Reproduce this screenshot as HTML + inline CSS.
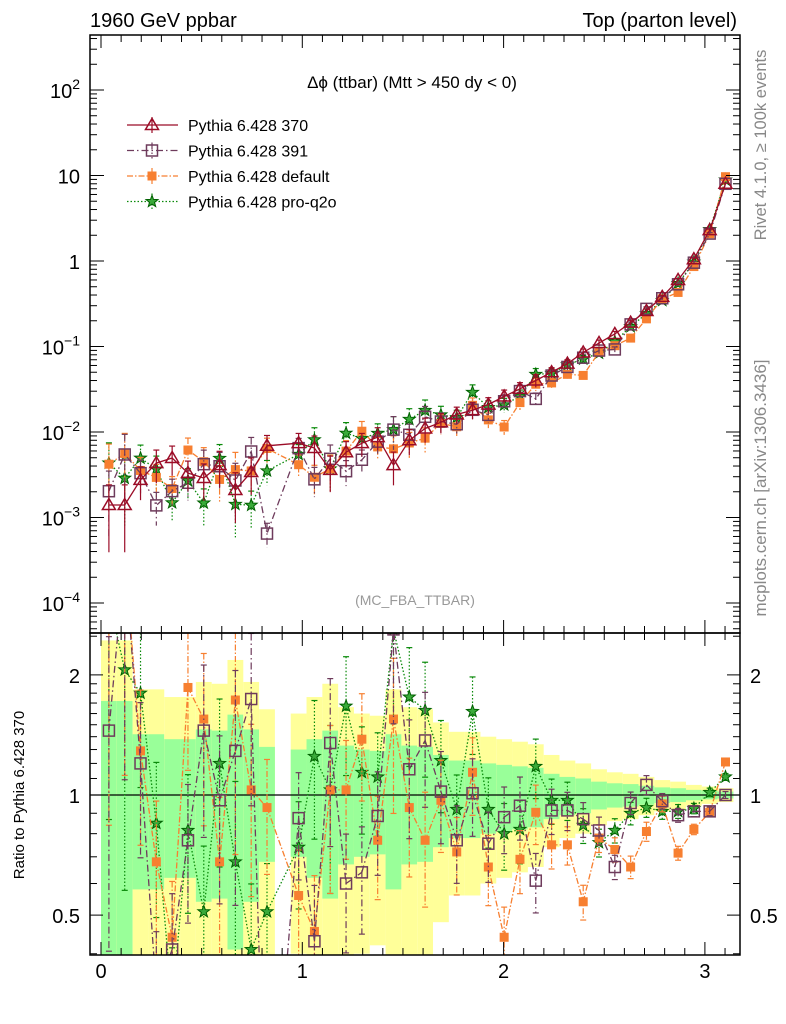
<!DOCTYPE html>
<html><head><meta charset="utf-8"><style>
html,body{margin:0;padding:0;background:#fff;width:786px;height:1024px;overflow:hidden;}
svg{display:block;font-family:"Liberation Sans",sans-serif;}
</style></head><body>
<svg id="chart" width="786" height="1024" viewBox="0 0 786 1024" xmlns="http://www.w3.org/2000/svg">
<defs>
<clipPath id="cm"><rect x="90" y="35" width="650" height="598"/></clipPath>
<clipPath id="cr"><rect x="90" y="633" width="650" height="322"/></clipPath>
</defs>
<text x="90" y="27" font-size="20">1960 GeV ppbar</text>
<text x="737" y="27" font-size="20" text-anchor="end">Top (parton level)</text>
<text x="412" y="88" font-size="17" text-anchor="middle">Δϕ (ttbar) (Mtt &gt; 450 dy &lt; 0)</text>
<text x="415" y="605" font-size="14" fill="#999" text-anchor="middle">(MC_FBA_TTBAR)</text>
<text transform="translate(766,145) rotate(-90)" font-size="16.5" fill="#888" text-anchor="middle">Rivet 4.1.0, ≥ 100k events</text>
<text transform="translate(766,488) rotate(-90)" font-size="17" fill="#888" text-anchor="middle">mcplots.cern.ch [arXiv:1306.3436]</text>
<text transform="translate(24,795) rotate(-90)" font-size="15" text-anchor="middle">Ratio to Pythia 6.428 370</text>
<g id="bands" clip-path="url(#cr)"></g>
<g id="ratio" clip-path="url(#cr)"></g>
<g id="main" clip-path="url(#cm)"></g>
<g id="axes"></g>
<g id="legend"></g>
</svg>
<script>
const ref370 = [1.40e-3,1.40e-3,2.75e-3,4.33e-3,4.96e-3,3.31e-3,2.9e-3,4.1e-3,2.1e-3,3.4e-3,6.9e-3,null,7.4e-3,6.5e-3,3.6e-3,5.8e-3,7.4e-3,8.7e-3,4.1e-3,8.0e-3,
 1.1e-2,1.3e-2,1.6e-2,1.8e-2,2.1e-2,2.6e-2,3.2e-2,4.0e-2,5.0e-2,6.3e-2,0.085,0.11,0.14,0.19,0.26,0.38,0.6,1.05,2.3,8.0];
const ratio391 = [1.45,3.9,1.2,0.32,0.41,0.77,1.45,0.97,1.29,1.74,0.094,null,0.875,0.43,1.35,0.6,0.64,0.886,2.6,1.16,
 1.37,1.02,0.77,1.01,0.755,0.88,0.94,0.61,0.915,0.915,0.87,0.815,0.66,0.955,1.06,0.965,0.89,0.91,0.91,1.0];
const ratioDefault = [3.0,4.0,1.29,0.68,0.44,1.86,1.55,0.68,1.73,1.03,0.93,null,0.56,0.455,1.03,1.03,1.38,0.77,1.55,0.93,
 0.77,0.97,0.72,1.14,0.66,0.44,0.69,0.905,0.75,0.75,0.54,0.78,0.73,0.66,0.81,0.95,0.715,0.82,0.905,1.21];
const ratioQ2o = [3.1,2.06,1.8,0.85,0.3,0.815,0.51,1.2,0.68,0.41,0.51,null,0.74,1.25,1.03,1.67,1.14,1.11,2.6,1.76,
 1.63,1.22,0.92,1.62,0.92,0.8,0.82,1.18,0.97,0.97,0.84,0.76,0.815,0.9,0.93,0.91,0.91,0.925,1.015,1.11];
const relErr = [0.72,0.72,0.42,0.42,0.38,0.38,0.46,0.45,0.59,0.46,0.32,null,0.30,0.38,0.45,0.33,0.30,0.29,0.42,0.33,
 0.32,0.26,0.22,0.22,0.2,0.19,0.18,0.17,0.13,0.11,0.1,0.08,0.07,0.065,0.055,0.045,0.04,0.03,0.025,0.02];
const xTicks = [0,1,2,3];
const yMainTicks = [2,1,0,-1,-2,-3,-4];
const ratioTicks = ["0.5","1","2"];

const NS="http://www.w3.org/2000/svg";
const nBins=ref370.length, bw=Math.PI/nBins;
const X=v=>101+v*201.3;
const YM=v=>90+(2-Math.log10(v))*85.5;
const YR=r=>795-Math.log10(r)*399;
const RTOP=633,RBOT=955;
function mk(tag,attrs,parent){const e=document.createElementNS(NS,tag);for(const k in attrs)e.setAttribute(k,attrs[k]);parent.appendChild(e);return e;}
const G=id=>document.getElementById(id);
const cx=i=>X((i+0.5)*bw);
const clampR=y=>Math.max(RTOP,Math.min(RBOT,y));
function clipSeg(x1,y1,x2,y2){
 let t0=0,t1=1;const dy=y2-y1;
 if(dy===0){if(y1<RTOP||y1>RBOT)return null;}
 else{let ta=(RTOP-y1)/dy,tb=(RBOT-y1)/dy;if(ta>tb){const t=ta;ta=tb;tb=t;}t0=Math.max(t0,ta);t1=Math.min(t1,tb);if(t0>=t1)return null;}
 return [x1+(x2-x1)*t0,y1+dy*t0,x1+(x2-x1)*t1,y1+dy*t1];
}

const bands=G('bands');
for(let i=0;i<nBins;i++){const e=relErr[i];if(e==null)continue;
 const x0=X(i*bw),x1=X((i+1)*bw);
 let t=clampR(YR(1+2*e)),b=1-2*e>0?clampR(YR(1-2*e)):RBOT;
 let r=mk('rect',{x:x0,y:t,width:x1-x0,height:b-t,fill:'#ffff99'},bands);
 
 
 t=clampR(YR(1+e));b=1-e>0?clampR(YR(1-e)):RBOT;
 r=mk('rect',{x:x0,y:t,width:x1-x0,height:b-t,fill:'#99ff99'},bands);
 
 
}
const rl=mk('line',{x1:90,x2:740,y1:YR(1),y2:YR(1),stroke:'#000','stroke-width':1.3},G('ratio'));



function marker(kind,x,y,color,p){
 let el;
 if(kind==='tri')el=mk('polygon',{points:`${x},${y-6.5} ${x-6.5},${y+4.5} ${x+6.5},${y+4.5}`,fill:'none',stroke:color,'stroke-width':1.5},p);
 else if(kind==='osq')el=mk('rect',{x:x-5.5,y:y-5.5,width:11,height:11,fill:'none',stroke:color,'stroke-width':1.5},p);
 else if(kind==='fsq')el=mk('rect',{x:x-4.5,y:y-4.5,width:9,height:9,fill:color},p);
 else {let pts=[];for(let k=0;k<10;k++){const a=-Math.PI/2+k*Math.PI/5,rr=k%2?2.6:6.3;pts.push((x+rr*Math.cos(a)).toFixed(1)+','+(y+rr*Math.sin(a)).toFixed(1));}
  el=mk('polygon',{points:pts.join(' '),fill:'#3aaa3a',stroke:'#006000','stroke-width':1},p);}
 return el;
}
const series=[
 {name:'pythia-370',ratio:null,color:'#9b0c27',dash:'',kind:'tri',label:'Pythia 6.428 370'},
 {name:'pythia-391',ratio:ratio391,color:'#6e3b5c',dash:'7,3,1.5,3',kind:'osq',label:'Pythia 6.428 391'},
 {name:'pythia-default',ratio:ratioDefault,color:'#f77f30',dash:'6,2,1.5,2',kind:'fsq',label:'Pythia 6.428 default'},
 {name:'pythia-pro-q2o',ratio:ratioQ2o,color:'#0a8a0a',dash:'1.5,2',kind:'star',label:'Pythia 6.428 pro-q2o'}
];
const main=G('main'),ratio=G('ratio');
series.slice().reverse().forEach(s=>{
 const vals=ref370.map((v,i)=>v==null?null:(s.ratio?(s.ratio[i]==null?null:v*s.ratio[i]):v));
 let pts=[];
 vals.forEach((v,i)=>{if(v!=null)pts.push(cx(i).toFixed(1)+','+YM(v).toFixed(1));});
 const pl=mk('polyline',{points:pts.join(' '),fill:'none',stroke:s.color,'stroke-width':1.3,'stroke-dasharray':s.dash},main);
 
 
 vals.forEach((v,i)=>{if(v==null)return;const e=relErr[i]||0.3,x=cx(i);
  const y1=YM(v*(1+e)),y2=(1-e)>0?Math.min(633,YM(v*(1-e))):633;
  const eb=mk('line',{x1:x,x2:x,y1:y1,y2:y2,stroke:s.color,'stroke-width':1.2,'stroke-dasharray':s.dash},main);
  
  
  mk('line',{x1:x-3,x2:x+3,y1:y1,y2:y1,stroke:s.color,'stroke-width':1.2},main);
  const m=marker(s.kind,x,YM(v),s.color,main);
  
  
 });
 if(!s.ratio)return;
 const rg=mk('g',{},ratio);
 
 
 let prev=null;
 s.ratio.forEach((r,i)=>{if(r==null)return;const p=[cx(i),YR(r)];
  if(prev){const c=clipSeg(prev[0],prev[1],p[0],p[1]);
   if(c)mk('line',{x1:c[0],y1:c[1],x2:c[2],y2:c[3],stroke:s.color,'stroke-width':1.3,'stroke-dasharray':s.dash},rg);}
  prev=p;});
 s.ratio.forEach((r,i)=>{if(r==null)return;const e=relErr[i],x=cx(i);
  const y1r=YR(r*(1+e)),y2r=(1-e)>0?YR(r*(1-e)):RBOT;
  if(y2r>RTOP&&y1r<RBOT){
   const y1=clampR(y1r),y2=clampR(y2r);
   const eb=mk('line',{x1:x,x2:x,y1:y1,y2:y2,stroke:s.color,'stroke-width':1.2,'stroke-dasharray':s.dash},ratio);
   
   
   if(y1r>=RTOP)mk('line',{x1:x-3,x2:x+3,y1:y1,y2:y1,stroke:s.color,'stroke-width':1.2},ratio);
   if(y2r<=RBOT)mk('line',{x1:x-3,x2:x+3,y1:y2,y2:y2,stroke:s.color,'stroke-width':1.2},ratio);
  }
  const ym=YR(r);
  if(ym>=RTOP-4&&ym<=RBOT+4){
   const m=marker(s.kind,x,ym,s.color,ratio);
   
   
  }
 });
});

const ax=G('axes');
const f1=mk('rect',{x:90,y:35,width:650,height:598,fill:'none',stroke:'#000','stroke-width':1.5},ax);


const f2=mk('rect',{x:90,y:633,width:650,height:322,fill:'none',stroke:'#000','stroke-width':1.5},ax);


const T=(a)=>mk('line',Object.assign({stroke:'#000','stroke-width':1},a),ax);
for(let k=0;k<=32;k++){const v=k/10;if(X(v)<90||X(v)>740)continue;const L=k%10===0?13:7,x=X(v);
 T({x1:x,x2:x,y1:35,y2:35+L});T({x1:x,x2:x,y1:633,y2:633-L});T({x1:x,x2:x,y1:633,y2:633+L});T({x1:x,x2:x,y1:955,y2:955-L});}
xTicks.forEach(v=>{const t=mk('text',{x:X(v),y:978,'font-size':20,'text-anchor':'middle'},ax);t.textContent=v;
 
 });
for(let d=-5;d<=2;d++)for(let m=1;m<10;m++){const y=YM(m*Math.pow(10,d));if(y<35||y>633)continue;const L=m===1?14:7;
 T({x1:90,x2:90+L,y1:y,y2:y});T({x1:740,x2:740-L,y1:y,y2:y});}
yMainTicks.forEach(d=>{const y=YM(Math.pow(10,d));const t=mk('text',{x:80,y:y+8,'font-size':20,'text-anchor':'end'},ax);
 
 
 if(d===1)t.textContent='10';else if(d===0)t.textContent='1';
 else{t.textContent='10';const s=mk('tspan',{dy:-9,'font-size':14},t);s.textContent=(d<0?'−':'')+Math.abs(d);}
});
[0.4,0.5,0.6,0.7,0.8,0.9,1,1.1,1.2,1.3,1.4,1.5,1.6,1.7,1.8,1.9,2,2.5].forEach(r=>{const y=YR(r);if(y<633||y>955)return;const L=(r===0.5||r===1||r===2)?13:7;
 T({x1:90,x2:90+L,y1:y,y2:y});T({x1:740,x2:740-L,y1:y,y2:y});});
ratioTicks.forEach(s=>{const y=YR(parseFloat(s))+8;
 let t=mk('text',{x:80,y:y,'font-size':20,'text-anchor':'end'},ax);t.textContent=s;
 
 
 t=mk('text',{x:750,y:y,'font-size':20},ax);t.textContent=s;
 
 });

const lg=G('legend');
series.forEach((s,k)=>{const y=125+k*25.5;
 const g=mk('g',{},lg);
 
 
 mk('line',{x1:127,x2:178,y1:y,y2:y,stroke:s.color,'stroke-width':1.3,'stroke-dasharray':s.dash},g);
 mk('line',{x1:152,x2:152,y1:y-8,y2:y+8,stroke:s.color,'stroke-width':1.2,'stroke-dasharray':s.dash},g);
 marker(s.kind,152,y,s.color,g);
 const t=mk('text',{x:188,y:y+6,'font-size':16},g);t.textContent=s.label;
});
</script>
</body></html>
